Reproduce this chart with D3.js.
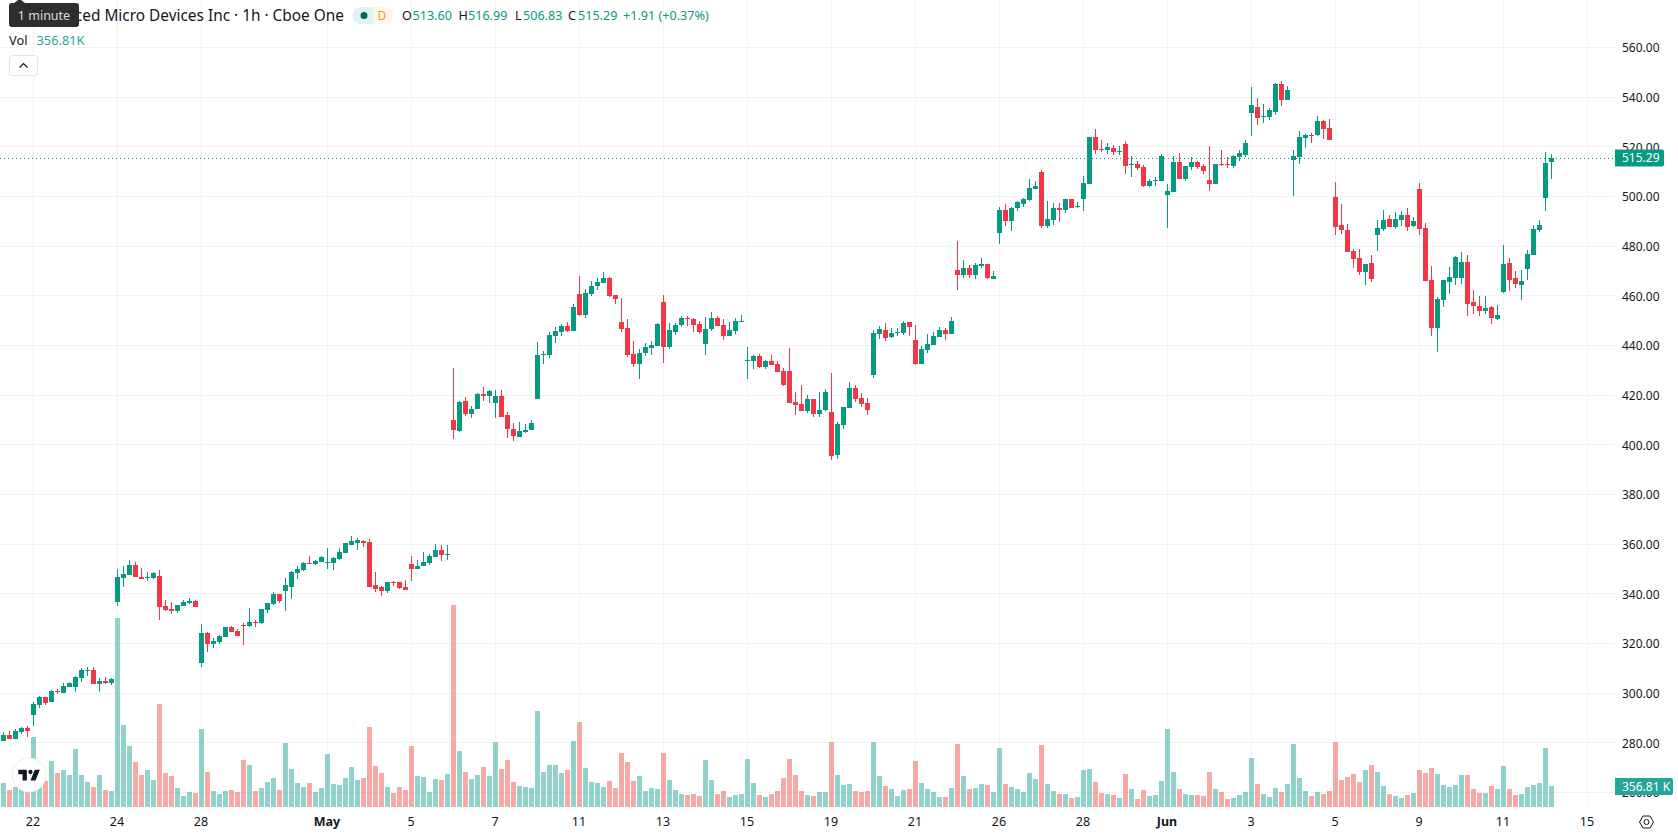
<!DOCTYPE html>
<html>
<head>
<meta charset="utf-8">
<title>AMD 1h</title>
<script src="https://cdn.jsdelivr.net/npm/d3@7/dist/d3.min.js"></script>
<style>
  html, body { margin: 0; padding: 0; background: #fff; overflow: hidden; }
  svg { display: block; font-family: "Noto Sans", sans-serif; }
  text { fill: #131722; }
</style>
</head>
<body>
<svg id="chart" width="1678" height="835"></svg>
<script>
// Hourly OHLC bars, oldest first
const open = [
280.4,282.85,281.2,284.05,285.7,290.9,294.9,298.1,296.1,300.5,
299.7,302.1,302.1,305.8,308.6,309,303.35,304.55,303.75,336.4,
346.1,347.3,351.3,346.5,346.1,346.1,346.9,334.8,333.6,332.8,
334.8,336,336.8,311.9,323.95,319.5,320.35,322.35,326.35,324.75,
327.15,326.75,328.4,328,333.2,335.6,339.6,340.85,342.45,348.05,
349.3,352.1,351.7,352.5,352.1,352.1,353.7,356.1,359.3,360.1,
360.9,360.5,343.25,342.45,340.85,344.45,344.45,342.45,351.7,349.7,
350.9,352.1,354.5,357.3,355.3,409.8,405.35,417.4,412.2,414.2,
420.2,419.4,416.6,419.4,411.8,406.2,402.95,404.95,405.75,418.2,
435.9,435.9,443.55,445.15,447.55,445.55,460.4,452,460.4,463.65,
464.85,466.85,460,449.2,446.75,436.3,432.3,436.7,438.75,439.55,
457.2,439.15,445.15,447.95,450.8,450.4,448.35,440.35,446.35,450.8,
447.95,443.55,445.55,449.2,433.5,433.5,435.5,431.1,433.5,432.3,
429.5,429.5,417,416.2,413.4,418.2,412.2,413.8,413,395.7,
407.8,414.6,422.65,418.6,416.6,427.85,444.35,445.95,443.2,444.8,
444.8,449.25,442,432.35,438,440,443.2,446,444.4,470,
468,470.8,468,471.6,472.4,466.4,484.9,494.15,490.1,494.95,
496.95,498.55,503,509.8,488.1,490.5,494.95,494.15,498.95,495.75,
498.95,505,523.9,519.05,518.65,519.45,517.85,521.05,512.6,513,
511.8,504.2,506.2,506.2,500.2,501.4,513.85,507,511.85,513.85,
512.2,506.6,505,513,513,512.2,515.85,516.65,533.55,535.95,
531.95,531.95,533.95,545.2,538.75,514.65,515.85,523.5,524.7,524.7,
530.3,527.5,499.6,488.3,486.3,477.9,475,469.4,473,484.3,
486.7,490.7,487.5,490.3,492.4,487.9,502.8,487.1,466.2,446.9,
458.1,465.4,467,467,473.4,457.3,455.7,453.7,455.3,450.5,
461.4,473,467,464.2,470.6,476.3,486.3,499.2,513.6];

const high = [
284.05,284.5,285.3,286.1,286.5,296.1,298.5,298.1,300.9,301.3,
303.75,304.15,306.6,309.8,310.2,310.2,305.8,306.2,305.8,349.7,
350.9,353.3,352.5,350.1,348.5,348.5,349.3,337.2,336.4,335.2,
337.2,338,337.2,327.6,324.35,321.95,323.15,326.35,326.75,325.55,
328,334,329.2,333.6,336,340.4,339.6,346.05,348.9,350.9,
352.5,354.9,353.3,354.9,358.1,354.5,358.1,360.1,362.9,362.1,
361.3,361.7,348.5,342.85,344.45,344.85,344.45,345.25,354.9,353.3,
356.5,355.7,359.7,359.3,359.3,430.7,417.4,419,415.4,420.6,
423,421.8,421.8,421.8,413,408.6,409,408.2,409.8,441.1,
437.5,445.15,447.15,448.35,449.15,456.4,467.7,462.4,465.65,466.85,
469.3,467.25,460,458.8,450.4,441.5,438.3,440.75,441.55,448.75,
460,448.75,448.75,451.6,451.6,450.8,449.6,451.2,453.2,451.6,
450.4,449.2,450.8,452,439.1,435.9,436.3,433.9,435.9,433.5,
430.7,438.7,421,423.85,419.85,418.2,421,422.25,428.7,409,
415,425.05,423.85,420.6,418.6,445.95,447.55,448.75,446.85,446.85,
449.65,449.25,448,439.6,444.4,445.2,447.2,446.85,451.25,481.7,
474.4,472,472.8,475.2,472.4,469.6,495.75,496.95,495.75,498.15,
499.35,507,506.2,510.6,498.15,497.35,497.35,498.95,498.95,497.75,
508.2,523.9,527.1,522.7,521.45,520.65,520.25,522.3,516.25,514.2,
512.6,507,507.8,517.05,505,516.25,517.45,512.2,515.85,514.25,
513,520.25,513,518.65,515.85,516.65,518.65,522.7,544,539.55,
537.15,535.55,545.6,546.4,544.4,518.65,526.3,525.1,525.5,532.35,
530.7,531.1,505.6,496.8,488.7,478.7,478.7,472.6,476.3,490.3,
494.4,492.4,493.6,494,495.2,491.5,505.2,489.1,471.8,459.3,
466.2,471.4,475.8,477.5,476.3,462.2,459.7,459.7,455.7,456.1,
480.3,475,469.8,470.2,478.3,488.3,490.3,517.7,516.99];

const low = [
280.4,281.2,281.2,283.25,282,286.5,293.7,294.9,296.1,299.3,
299.7,302.1,300.1,304.15,306.6,303.35,300.1,303.35,302.95,334.8,
342.45,347.3,346.5,345.7,344.9,345.7,329.2,332.8,331.6,332,
334.8,335.6,334.4,310.3,316.3,317.9,319.5,322.35,324.35,322.75,
319.15,326.35,326.35,327.6,332,335.2,336,332.8,337.6,345.65,
348.9,351.7,351.3,352.5,349.7,349.3,353.3,356.1,359.3,357.3,
358.5,342.45,340.4,338.8,340,342.85,341.65,341.25,344.85,349.7,
350.9,351.3,354.5,352.9,353.3,402.15,404.95,411.4,410.6,414.2,
417.4,416.6,410.6,411,402.55,401.35,402.95,404.55,405.75,418.2,
432.3,434.7,440.75,443.55,445.15,445.55,451.6,450.8,459.6,462,
464.85,459.25,456.4,445.15,435.1,431.1,426.25,435.5,435.9,439.55,
432.7,438.3,443.95,447.15,447.55,445.15,444.35,435.9,445.55,447.55,
441.95,443.55,444.35,449.2,426.25,430.3,430.7,430.3,431.9,429.1,
423.45,416.6,411.8,413.4,412.6,411,411,413.4,393.7,394.1,
406.2,414.6,417,415,411.8,426.65,442.35,441.55,442.8,443.6,
444,443.6,431.95,432.35,436.8,440,443.2,442,444.4,462,
466.8,466.8,466.4,470.8,466.4,466.4,480.5,488.1,485.7,493.75,
495.75,498.15,503,486.9,486.9,488.5,489.7,492.95,494.95,494.95,
493.75,505,517.05,517.85,517.05,516.65,516.65,509,507.8,510.6,
503.8,503.8,504.2,506.2,486.9,501.4,507,506.2,510.6,511,
509,501.8,505,512.2,511.4,511.4,514.25,515.85,524.3,528.7,
529.5,530.7,532.75,536.35,538.75,500.15,513,519.45,521.45,524.3,
523.1,522.7,484.3,484.7,477.5,471,468.2,464.2,465.4,477.9,
485.9,487.5,486.7,487.9,485.9,487.5,484.3,465.8,443.6,437.2,
455.3,460.5,464.2,464.6,451.7,452.5,451.7,452.5,448.5,450.1,
461,461.8,463,458.1,466.2,476.3,485.5,494,506.83];

const close = [
282.85,281.2,284.5,285.7,284.5,295.3,298.1,295.7,300.5,300.1,
302.5,303.75,306.2,309,309,303.35,304.55,303.75,305.35,346.47,
347.7,351.3,346.5,345.7,346.5,348.1,334.4,333.2,332.8,335.2,
336.4,336.8,334.4,323.95,319.5,320.75,322.75,326.35,324.35,322.75,
326.75,328.4,328,333.6,336,339.6,336.8,343.25,348.45,349.7,
352.1,351.7,352.9,354.5,352.5,354.1,356.5,360.1,360.9,361.3,
360.1,342.45,341.65,340.85,344.45,344.05,342.05,341.25,349.7,350.9,
352.5,354.9,357.3,355.3,355.7,405.75,417,412.2,414.2,420.2,
419.4,421.4,419.4,411,406.2,403.35,405.35,405.75,408.6,435.9,
436.3,443.95,445.55,447.55,445.55,455.2,452,460.8,463.65,465.25,
466.85,459.65,458.4,446.35,435.9,432.3,436.7,439.1,439.95,448.35,
439.15,445.95,447.95,450.8,450.4,447.95,445.15,446.35,450.8,447.55,
443.55,445.95,449.6,449.6,433.9,435.5,431.1,433.5,431.9,429.1,
423.85,416.6,415.8,413.4,418.2,412.2,413.8,421,395.3,408.2,
415,422.65,418.2,416.2,413.8,444.75,446.35,442.75,444.8,445.2,
448.85,447.25,432.35,438.4,440.4,443.6,446,444.4,449.65,468,
470.8,468,472,472.4,466.8,467.6,494.15,490.1,495.35,497.75,
498.95,503.4,504.2,488.1,490.9,495.35,494.15,498.95,494.95,496.15,
505.4,523.9,518.65,518.65,519.85,517.85,518.25,512.2,513,511.4,
504.2,506.2,506.6,516.25,501.8,513.85,507,512.2,513.85,511.85,
510.2,505,513,512.6,512.6,516.25,517.45,521.45,536.75,531.5,
532.35,534.75,545.2,538.75,542.8,516.25,523.9,524.7,524.3,530.3,
527.1,522.7,487.5,486.3,477.5,474.6,469.4,472.6,466.6,487.1,
490.3,487.5,490.7,492.4,487.5,489.9,486.7,465.8,446.9,458.5,
466.2,467.4,475.4,473.4,456.5,455.7,453.7,454.9,450.9,452.1,
472.6,466.2,464.6,465.8,476.7,486.7,488.3,513.3,515.29];

// Traded volume per bar, in thousands of shares
const volume = [
408,289,340,340,261,1189,736,442,782,578,
629,544,986,544,425,340,544,289,272,3212,
1393,1037,765,544,629,459,1750,578,527,323,
187,255,238,1325,595,272,221,272,289,255,
799,714,272,323,425,493,289,1088,646,408,
340,408,255,323,901,391,374,493,680,459,
493,1359,697,578,340,238,340,289,1037,527,
510,255,476,459,561,3432,952,595,476,544,
680,527,1105,646,799,425,357,340,323,1631,
595,714,714,578,629,1122,1444,663,425,408,
340,442,323,918,765,442,527,272,323,306,
918,459,289,221,204,221,187,799,459,221,
272,170,204,221,816,408,204,170,221,272,
493,816,544,272,204,187,255,255,1105,544,
374,391,272,255,272,1105,527,357,306,187,
289,306,782,408,306,255,170,170,323,1071,
527,306,323,391,374,255,1003,391,340,306,
255,578,476,1054,391,272,221,221,153,170,
629,646,425,238,221,204,153,561,306,136,
289,187,204,442,1325,595,306,221,204,204,
187,595,306,255,136,153,204,255,833,391,
221,170,323,255,391,1071,493,272,187,255,
221,272,1105,459,510,561,425,629,714,595,
357,221,187,153,204,238,629,578,663,561,
374,340,374,544,544,306,238,238,357,306,
697,306,204,221,340,374,408,1003,356.81];

// Time-axis labels and the bar each one sits on (7 bars per session)
const timeLabels = ["22","24","28","May","5","7","11","13","15","19","21","26","28","Jun","3","5","9","11","15"];
const timeBars = [5,19,33,54,68,82,96,110,124,138,152,166,180,194,208,222,236,250,264];
const monthLabels = ["May","Jun"];

const priceTicks = [560,540,520,500,480,460,440,420,400,380,360,340,320,300,280,260];

const lastPrice = 515.29;
const lastVolume = 356.81;
const legendOHLC = [["O","513.60"],["H","516.99"],["L","506.83"],["C","515.29"]];
const legendChange = "+1.91 (+0.37%)";

const UP = "#089981", DOWN = "#F23645", VOL_UP = "#26A69A", VOL_DOWN = "#EF5350", GRID = "#f3f3f4";
const PANE_RIGHT = 1615, PANE_BOTTOM = 807;

const svg = d3.select("#chart");
const bars = d3.range(close.length);
const isUp = i => close[i] >= open[i];

const x = d3.scaleLinear().domain([0, 264]).range([3.5, 1587.5]);
const y = d3.scaleLinear().domain([280, 520]).range([742.2, 146.3]);
const yVol = d3.scaleLinear().domain([0, 3400]).range([PANE_BOTTOM, 607]);
const crisp = v => Math.round(v) + 0.5;

// Grid
const grid = svg.append("g").attr("stroke", GRID).attr("stroke-width", 1);
grid.selectAll("line.v").data(timeBars).join("line").attr("class", "v")
  .attr("x1", d => x(d)).attr("x2", d => x(d)).attr("y1", 0).attr("y2", PANE_BOTTOM);
grid.selectAll("line.h").data(priceTicks).join("line").attr("class", "h")
  .attr("x1", 0).attr("x2", PANE_RIGHT).attr("y1", d => crisp(y(d))).attr("y2", d => crisp(y(d)));

// Volume histogram
svg.append("g").attr("shape-rendering", "crispEdges").selectAll("rect").data(bars).join("rect")
  .attr("x", i => x(i) - 2.5).attr("width", 5)
  .attr("y", i => yVol(volume[i])).attr("height", i => PANE_BOTTOM - yVol(volume[i]))
  .attr("fill", i => isUp(i) ? VOL_UP : VOL_DOWN).attr("fill-opacity", 0.5);

// Last-price line
svg.append("line").attr("x1", 0).attr("x2", PANE_RIGHT)
  .attr("y1", crisp(y(lastPrice))).attr("y2", crisp(y(lastPrice)))
  .attr("stroke", UP).attr("stroke-width", 1).attr("stroke-dasharray", "1 3");

// Candles
const candles = svg.append("g").attr("shape-rendering", "crispEdges");
candles.selectAll("rect.wick").data(bars).join("rect").attr("class", "wick")
  .attr("x", i => x(i) - 0.5).attr("width", 1)
  .attr("y", i => y(high[i])).attr("height", i => y(low[i]) - y(high[i]))
  .attr("fill", i => isUp(i) ? UP : DOWN);
candles.selectAll("rect.body").data(bars).join("rect").attr("class", "body")
  .attr("x", i => x(i) - 2.5).attr("width", 5)
  .attr("y", i => y(Math.max(open[i], close[i])))
  .attr("height", i => Math.max(1, Math.abs(y(open[i]) - y(close[i]))))
  .attr("fill", i => isUp(i) ? UP : DOWN);

// Price axis
const priceAxis = svg.append("g").attr("transform", `translate(${PANE_RIGHT},1)`)
  .call(d3.axisRight(y).tickValues(priceTicks).tickFormat(d3.format(".2f")).tickSize(0).tickPadding(7));
priceAxis.select(".domain").remove();
priceAxis.selectAll("text").attr("font-size", 12).attr("font-family", "'Noto Sans', sans-serif").style("fill", "#131722");

// Time axis
const timeAxis = svg.append("g").attr("transform", `translate(-1,${PANE_BOTTOM})`)
  .call(d3.axisBottom(x).tickValues(timeBars)
    .tickFormat(d => timeLabels[timeBars.indexOf(d)]).tickSize(0).tickPadding(10.5));
timeAxis.select(".domain").remove();
timeAxis.selectAll("text").attr("font-size", 12.5).attr("font-family", "'Noto Sans', sans-serif")
  .style("fill", "#131722")
  .attr("font-weight", function () { return monthLabels.includes(this.textContent) ? 700 : 400; });

// Value tags on the price scale
function valueTag(cy, w, fill, label) {
  svg.append("path")
    .attr("d", `M${PANE_RIGHT},${cy - 8.5}H${PANE_RIGHT + w - 2}q2,0 2,2V${cy + 6.5}q0,2 -2,2H${PANE_RIGHT}Z`)
    .attr("fill", fill);
  svg.append("text").attr("x", PANE_RIGHT + 7).attr("y", cy).attr("dy", "0.35em")
    .attr("font-size", 12).style("fill", "#fff").text(label);
}
valueTag(Math.round(y(lastPrice)), 49, UP, d3.format(".2f")(lastPrice));
valueTag(Math.round(yVol(lastVolume)) + 0.5, 58, VOL_UP, d3.format(".2f")(lastVolume) + " K");

// Settings icon under the price scale
const gear = svg.append("g").attr("transform", "translate(1646.5,822)")
  .attr("fill", "none").attr("stroke", "#131722").attr("stroke-width", 1);
gear.append("path").attr("d", "M-7,0L-3.5,-6H3.5L7,0L3.5,6H-3.5Z");
gear.append("circle").attr("r", 2.5);

// Watermark badge
const badge = svg.append("g").attr("transform", "translate(29,775)");
badge.append("circle").attr("r", 17).attr("fill", "#fff").attr("stroke", "#ececec").attr("stroke-width", 1);
badge.append("path").attr("transform", "translate(-12.2,-9.5) scale(0.72)")
  .attr("fill", "#131722")
  .attr("d", "M14 6H2v6h6v9h6V6Zm12 15h-7l6-15h7l-6 15Zm-7-9a3 3 0 1 0 0-6 3 3 0 0 0 0 6Z");

// Legend
const legend = svg.append("g").attr("font-size", 13);
legend.append("text").attr("x", 344).attr("y", 16).attr("dy", "0.35em").attr("font-size", 15.4)
  .attr("text-anchor", "end").text("Advanced Micro Devices Inc · 1h · Cboe One");

legend.append("path").attr("d", "M373,7H361a8.5,8.5 0 0 0 0,17H373Z").attr("fill", "#dff2ef");
legend.append("path").attr("d", "M373,7H385a8.5,8.5 0 0 1 0,17H373Z").attr("fill", "#fff6eb");
legend.append("circle").attr("cx", 364).attr("cy", 15.5).attr("r", 3.5).attr("fill", "#056656");
legend.append("text").attr("x", 382).attr("y", 16).attr("dy", "0.35em").attr("text-anchor", "middle")
  .attr("font-size", 12).style("fill", "#FF9800").text("D");

const ohlcX = [402, 458.5, 515, 568];
const ohlcValueX = [412.5, 468, 523, 578];
legendOHLC.forEach(([k, v], i) => {
  legend.append("text").attr("x", ohlcX[i]).attr("y", 16).attr("dy", "0.35em").attr("font-size", 12.6).text(k);
  legend.append("text").attr("x", ohlcValueX[i]).attr("y", 16).attr("dy", "0.35em").attr("font-size", 12.6)
    .style("fill", UP).text(v);
});
legend.append("text").attr("x", 623).attr("y", 16).attr("dy", "0.35em").attr("font-size", 12.6)
  .style("fill", UP).text(legendChange);

legend.append("text").attr("x", 9).attr("y", 41).attr("dy", "0.35em").attr("font-size", 12.8).text("Vol");
legend.append("text").attr("x", 36.5).attr("y", 41).attr("dy", "0.35em").attr("font-size", 12.8)
  .style("fill", VOL_UP).text(d3.format(".2f")(lastVolume) + "K");

// Collapse button
legend.append("rect").attr("x", 9.5).attr("y", 55.5).attr("width", 28).attr("height", 20).attr("rx", 3)
  .attr("fill", "#fff").attr("stroke", "#e0e3eb");
legend.append("path").attr("d", "M19.5,67.5L23.5,63.5L27.5,67.5")
  .attr("fill", "none").attr("stroke", "#131722").attr("stroke-width", 1.2);

// Tooltip sitting over the start of the title
const tip = svg.append("g");
tip.append("path").attr("d", "M12,3H14L18,0H21L25,3H76a3,3 0 0 1 3,3V24a3,3 0 0 1 -3,3H12a3,3 0 0 1 -3,-3V6a3,3 0 0 1 3,-3Z")
  .attr("fill", "#2e2e2e");
tip.append("text").attr("x", 44).attr("y", 15.5).attr("dy", "0.35em").attr("text-anchor", "middle")
  .attr("font-size", 12.5).style("fill", "#dbdbdb").text("1 minute");
</script>
</body>
</html>
